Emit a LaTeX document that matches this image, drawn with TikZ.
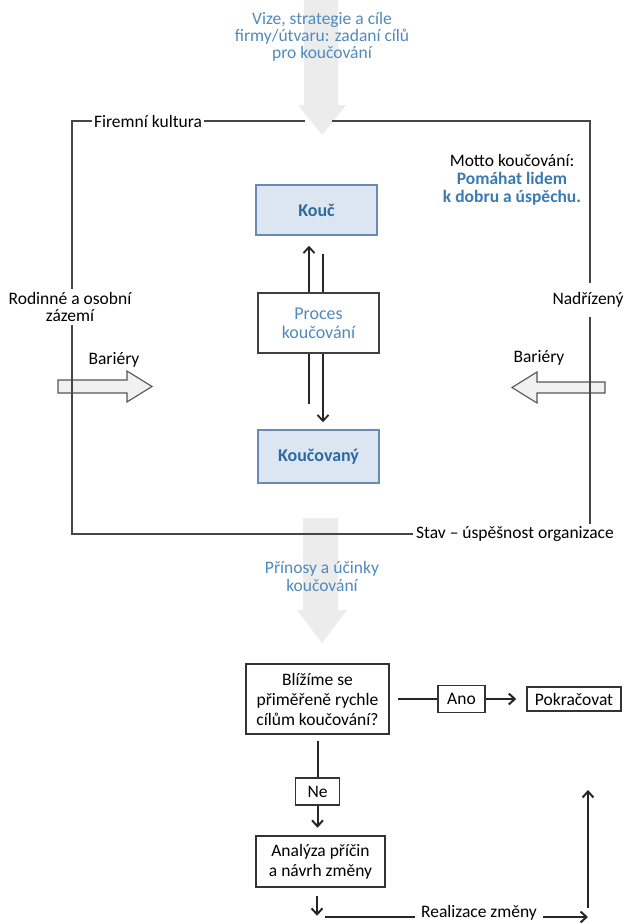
\documentclass[tikz,border=0pt]{standalone}
\usepackage{fontspec}
\setmainfont{Carlito}
\usetikzlibrary{arrows.meta,calc}

\definecolor{lblue}{RGB}{80,138,190}
\definecolor{kblue}{RGB}{46,106,160}
\definecolor{mblue}{RGB}{58,122,178}
\definecolor{boxfill}{RGB}{220,230,242}
\definecolor{boxedge}{RGB}{105,138,178}
\definecolor{bigarrowgrey}{RGB}{236,236,236}
\definecolor{framegrey}{RGB}{70,70,70}
\definecolor{blockfill}{RGB}{241,241,241}
\definecolor{blockedge}{RGB}{85,85,85}

\begin{document}
\begin{tikzpicture}[x=1pt,y=-1pt,
  every node/.style={font=\fontsize{17.5}{17.5}\selectfont, inner sep=2pt},
  frame/.style={draw=framegrey, line width=1.5pt},
  bluebox/.style={draw=boxedge, fill=boxfill, line width=1.5pt, minimum width=121pt,
    font=\fontsize{18}{19}\selectfont\bfseries, text=kblue},
  flowbox/.style={draw=black!80, line width=1.5pt, fill=white, align=center,
    font=\fontsize{17.5}{20}\selectfont},
  flow/.style={line width=2pt, draw=black!85},
  flowarrow/.style={flow, -{Straight Barb[length=6pt,width=11pt]}},
  pairarrow/.style={line width=1.8pt, draw=black!85, -{Straight Barb[length=6pt,width=11pt]}},
  blockarrow/.style={draw=blockedge, fill=blockfill, line width=1.1pt, line join=miter},
  bigarrow/.style={fill=bigarrowgrey, draw=none},
]
\useasboundingbox[fill=white] (0,0) rectangle (626,924);

% wide pale arrows entering and leaving the frame
\fill[bigarrow] (304,0) -- (338,0) -- (338,105) -- (346,105) -- (322,135) -- (298,105) -- (304,105) -- cycle;
\fill[bigarrow] (303,518) -- (338,518) -- (338,610) -- (347,610) -- (322,643) -- (297,610) -- (303,610) -- cycle;

\node[align=center, text=lblue, font=\fontsize{17.5}{17}\selectfont] (vize) at (322,37)
  {Vize, strategie a cíle\\firmy/útvaru: zadaní cílů\\pro koučování};
\node[align=center, text=lblue, font=\fontsize{17.5}{18}\selectfont] (prinosy) at (322,576)
  {Přínosy a účinky\\koučování};

% block arrows for the barriers
\draw[blockarrow] (58,380) -- (127,380) -- (127,371) -- (152,386.5) -- (127,402) -- (127,393) -- (58,393) -- cycle;
\draw[blockarrow] (605,382) -- (537,382) -- (537,372) -- (512,387.5) -- (537,403) -- (537,393) -- (605,393) -- cycle;
\node (barl) at (114,360) {Bariéry};
\node (barr) at (539,358) {Bariéry};

% the frame of the organisation
\coordinate (tl) at (72,121);
\coordinate (tr) at (590,121);
\coordinate (bl) at (72,534);
\coordinate (gapl) at (305,121);
\coordinate (gapr) at (332,121);
\node (fk) at (148,121) {Firemní kultura};
\node[align=center, inner sep=3pt] (rod) at (70,307) {Rodinné a osobní\\zázemí};
\node[inner ysep=9pt] (nad) at (588,300) {Nadřízený};
\node[inner xsep=3pt] (stav) at (515,534) {Stav – úspěšnost organizace};

\draw[frame] (gapl) -- (fk.east);
\draw[frame] (fk.west) -- (tl) -- (tl |- rod.north);
\draw[frame] (tl |- rod.south) -- (bl) -- (stav.west);
\draw[frame] (gapr) -- (tr) -- (tr |- nad.north);
\draw[frame] (tr |- nad.south) -- (tr |- stav.north);

\node[align=center, font=\fontsize{17.5}{18}\selectfont] (motto) at (512,180)
  {Motto koučování:\\\textcolor{mblue}{\bfseries Pomáhat lidem}\\\textcolor{mblue}{\bfseries k dobru a úspěchu.}};

% coach and coachee
\node[bluebox, minimum height=50pt] (kouc) at (316.5,210) {Kouč};
\node[bluebox, minimum height=53pt] (kouco) at (318.5,456.5) {Koučovaný};

\draw[pairarrow] ($(kouco.north)+(-9.5,-25)$) -- ($(kouc.south)+(-7.5,10)$);
\draw[pairarrow] ($(kouc.south)+(6.5,18)$) -- ($(kouco.north)+(4.5,-7)$);

\node[draw=black!75, fill=white, line width=1.4pt, minimum width=121pt, minimum height=60pt,
  align=center, text=lblue, font=\fontsize{18}{19}\selectfont] (proc) at (318.5,323)
  {Proces\\koučování};

% evaluation loop
\node[flowbox, minimum width=143pt, minimum height=70pt] (q) at (317.5,699)
  {Blížíme se\\přiměřeně rychle\\cílům koučování?};
\node[flowbox, minimum width=47pt, minimum height=27pt] (ano) at (461.5,699) {Ano};
\node[flowbox, minimum width=94pt, minimum height=24pt] (pok) at (574,699) {Pokračovat};
\node[flowbox, minimum width=44pt, minimum height=27pt] (ne) at (317.5,791.5) {Ne};
\node[flowbox, minimum width=129pt, minimum height=51pt] (ana) at (320.5,861.5)
  {Analýza příčin\\a návrh změny};
\node[inner xsep=6pt] (real) at (479,913) {Realizace změny};

\coordinate (rs) at (325,917);
\coordinate (corner) at (588,917);
\coordinate (up) at (588,908);
\coordinate (uptop) at (588,790);

\draw[flow] ($(q.east)+(8,0)$) -- (ano.west);
\draw[flowarrow] (ano.east) -- ($(pok.west)+(-10,0)$);
\draw[flow] ($(q.south)+(0,6)$) -- (ne.north);
\draw[flowarrow] (ne.south) -- ++(0,22);
\draw[flowarrow] ($(ana.south)+(-3.5,8)$) -- ++(0,20);
\draw[flow] (rs) -- (rs -| real.west);
\draw[flowarrow] (rs -| real.east) -- (corner);
\draw[flowarrow] (up) -- (uptop);
\end{tikzpicture}
\end{document}
